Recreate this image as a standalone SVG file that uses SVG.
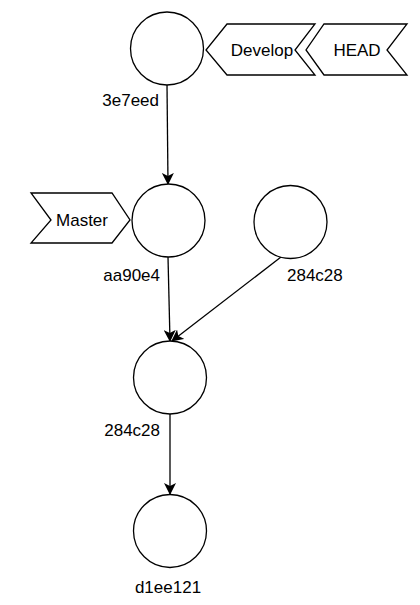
<svg xmlns="http://www.w3.org/2000/svg" width="420" height="605" viewBox="0 0 420 605">
<style>
.n{fill:#fff;stroke:#000;stroke-width:1.3}
.t{font-family:"Liberation Sans",Arial,sans-serif;font-size:17px;fill:#000}
.e{stroke:#000;stroke-width:1.3;fill:none}
</style>
<defs>
<marker id="a" viewBox="0 0 12 12" refX="11" refY="6" markerWidth="12" markerHeight="12" markerUnits="userSpaceOnUse" orient="auto">
<path d="M0,0 L12,6 L0,12 L3,6 Z" fill="#000"/>
</marker>
</defs>
<rect width="420" height="605" fill="#fff"/>
<g id="connectors">
<line class="e" x1="167" y1="85" x2="168" y2="184" marker-end="url(#a)"/>
<line class="e" x1="168" y1="257" x2="170" y2="341" marker-end="url(#a)"/>
<line class="e" x1="281" y1="257" x2="172" y2="341" marker-end="url(#a)"/>
<line class="e" x1="170" y1="414" x2="170" y2="494" marker-end="url(#a)"/>
</g>
<g id="c3e7eed"><circle class="n" cx="167" cy="48.5" r="36.5"/><text class="t" x="159" y="106" text-anchor="end">3e7eed</text></g>
<g id="develop"><polygon class="n" points="227,24 315,24 295,50 315,75 227,75 206,50"/><text class="t" x="262" y="56" text-anchor="middle">Develop</text></g>
<g id="head"><polygon class="n" points="324,24 407,24 387,50 407,75 324,75 306,50"/><text class="t" x="357" y="56" text-anchor="middle">HEAD</text></g>
<g id="master"><polygon class="n" points="31,193 112,193 130,220 112,243 31,243 51,220"/><text class="t" x="82" y="226" text-anchor="middle">Master</text></g>
<g id="caa90e4"><circle class="n" cx="168.5" cy="220.5" r="36.5"/><text class="t" x="160" y="281" text-anchor="end">aa90e4</text></g>
<g id="c284c28b"><circle class="n" cx="290.5" cy="222" r="36.5"/><text class="t" x="287" y="281">284c28</text></g>
<g id="c284c28"><circle class="n" cx="170" cy="377.5" r="36.5"/><text class="t" x="160" y="436" text-anchor="end">284c28</text></g>
<g id="cd1ee121"><circle class="n" cx="170" cy="531" r="36.5"/><text class="t" x="168" y="593" text-anchor="middle">d1ee121</text></g>
</svg>
